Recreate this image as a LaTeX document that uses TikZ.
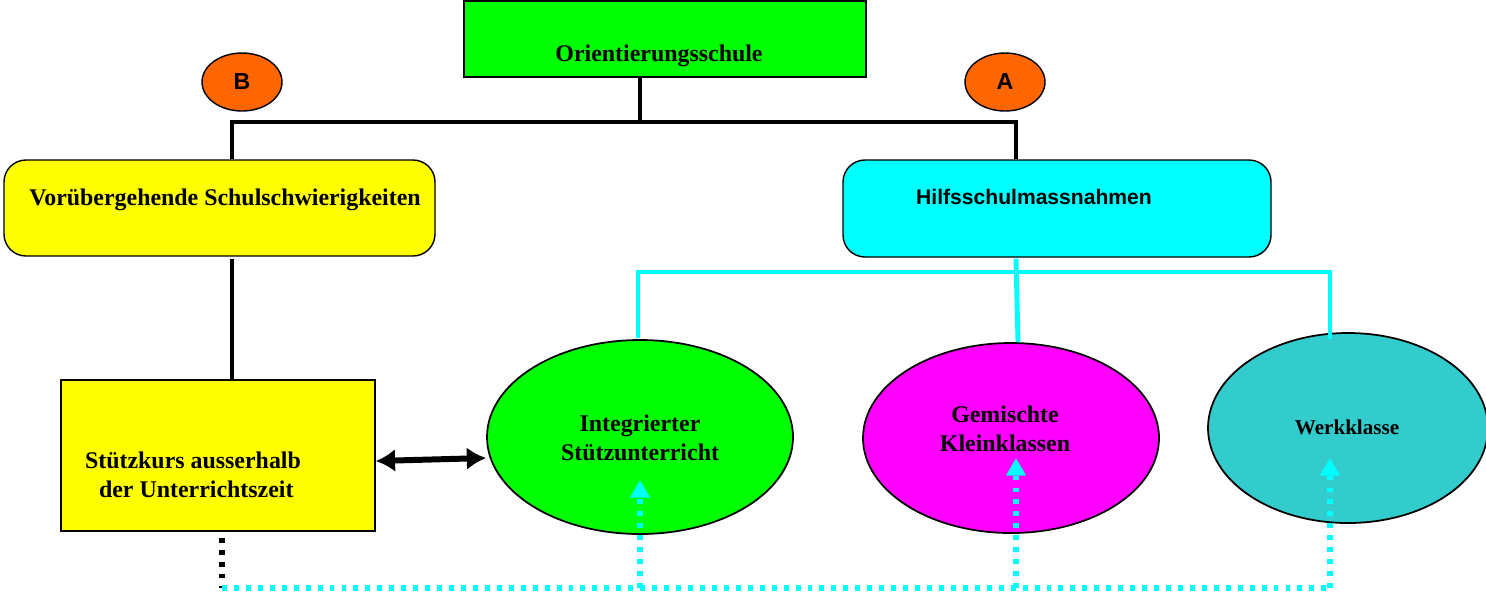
\documentclass[tikz,border=0pt]{standalone}
\usepackage{fontspec}
\setmainfont{Liberation Serif}
\setsansfont{Liberation Sans}
\usetikzlibrary{shapes.geometric,arrows.meta,positioning}
\definecolor{boxgreen}{HTML}{00FF00}
\definecolor{boxyellow}{HTML}{FFFF00}
\definecolor{boxcyan}{HTML}{00FFFF}
\definecolor{boxmagenta}{HTML}{FF00FF}
\definecolor{boxteal}{HTML}{33CCCC}
\definecolor{tagorange}{HTML}{FF6600}
\tikzset{
      box/.style      = {draw=black, line width=0.4pt, inner sep=0pt},
      roundbox/.style = {box, rounded corners=2.2mm},
      oval/.style     = {ellipse, draw=black, line width=0.5pt, inner sep=0pt},
      tag/.style      = {ellipse, draw=black, line width=0.4pt, fill=tagorange,
                         minimum width=8mm, minimum height=5.8mm, inner sep=0pt,
                         font=\sffamily\bfseries\fontsize{6.6}{8}\selectfont},
      txt/.style      = {font=\bfseries\fontsize{6.8}{8.2}\selectfont, inner sep=0pt},
      tree/.style     = {black, line width=1.2pt},
      cyanline/.style = {boxcyan, line width=1.4pt},
      blackdot/.style = {black, line width=1.5pt, dash pattern=on 1.4pt off 2pt},
      cyandot/.style  = {boxcyan, line width=1.5pt, dash pattern=on 1.4pt off 2pt},
      uptip/.style    = {cyandot, -{Triangle[length=5pt,width=5.4pt]}},
      link/.style     = {black, line width=1.7pt, {Latex[length=5.5pt,width=6.5pt]}-{Latex[length=5.5pt,width=6.5pt]}},
    }

\begin{document}
\begin{tikzpicture}[x=0.1mm, y=-0.1mm]
    \useasboundingbox (0,0) rectangle (1486,596);

    % boxes
    \node[box, fill=boxgreen, minimum width=40.2mm, minimum height=7.6mm] (orient) at (665,39) {};
    \node[roundbox, fill=boxyellow, minimum width=43.1mm, minimum height=9.6mm] (vor) at (219.5,208) {};
    \node[roundbox, fill=boxcyan, minimum width=42.8mm, minimum height=9.7mm] (hilf) at (1057,208.5) {};
    \node[box, fill=boxyellow, minimum width=31.4mm, minimum height=15.1mm] (stuetz) at (218,455.5) {};

    % ovals
    \node[oval, fill=boxgreen, minimum width=30.6mm, minimum height=19.4mm] (integ) at (640,437) {};
    \node[oval, fill=boxmagenta, minimum width=29.6mm, minimum height=19mm] (gem) at (1011,438) {};
    \node[oval, fill=boxteal, minimum width=28mm, minimum height=19mm] (werk) at (1348,428) {};

    % tags
    \node[tag] (tagB) at (242,82) {B};
    \node[tag] (tagA) at (1005,82) {A};

    % texts
    \node[txt] (orientText) at (659,56) {Orientierungsschule};
    \node[txt] (vorText) at (225,200) {Vorübergehende Schulschwierigkeiten};
    \node[txt, font=\sffamily\bfseries\fontsize{6}{7.4}\selectfont] (hilfText) at (1034,197) {Hilfsschulmassnahmen};
    \node[txt, align=left] (stuetzText) at (193,475) {Stützkurs ausserhalb\\\hspace*{1.4mm}der Unterrichtszeit};
    \node[txt, align=center] (integText) at (640,438) {Integrierter\\Stützunterricht};
    \node[txt, align=center] (gemText) at (1005,429) {Gemischte\\Kleinklassen};
    \node[txt, font=\bfseries\fontsize{6}{7.4}\selectfont] (werkText) at (1347,427) {Werkklasse};

    % black tree
    \coordinate (split) at (640,122);
    \coordinate (bL) at (232,122);
    \coordinate (bR) at (1016,122);
    \draw[tree] (orient.south -| split) -- (split);
    \draw[tree] (vor.north -| bL) -- (bL) -- (bR) -- (hilf.north -| bR);
    \draw[tree] ([yshift=-0.2mm]vor.south -| bL) -- (stuetz.north -| bL);

    % cyan tree
    \coordinate (cL) at (638,272);
    \coordinate (cR) at (1330,272);
    \draw[cyanline] ([yshift=-0.1mm]hilf.south -| bR) -- ([xshift=0.2mm]gem.north -| bR);
    \draw[cyanline] ([yshift=0.1mm]integ.north -| cL) -- (cL) -- (cR) -- ([yshift=-0.7mm]werk.north -| cR);

    % link
    \draw[link] (stuetz.east |- 0,461) -- (integ.west |- 0,458);

    % dotted returns
    \coordinate (dBase) at (222,588);
    \coordinate (tipI) at (640,480);
    \coordinate (tipG) at (1016,458);
    \coordinate (tipW) at (1330,458);
    \draw[blackdot] ([yshift=-0.6mm]stuetz.south -| dBase) -- (dBase);
    \draw[cyandot] (dBase) -- (dBase -| tipW);
    \draw[uptip] (dBase -| tipI) -- (tipI);
    \draw[uptip] (dBase -| tipG) -- (tipG);
    \draw[uptip] (dBase -| tipW) -- (tipW);
\end{tikzpicture}
\end{document}
